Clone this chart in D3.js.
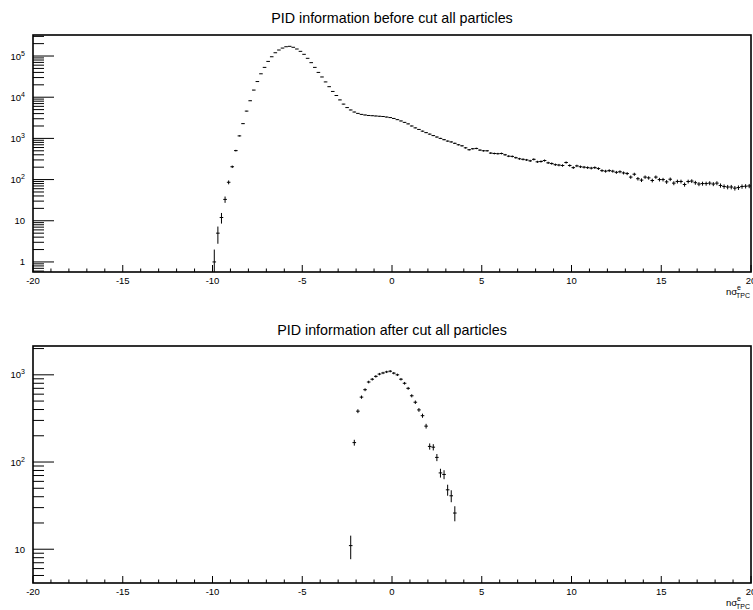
<!DOCTYPE html>
<html>
<head>
<meta charset="utf-8">
<script src="https://cdn.jsdelivr.net/npm/d3@7"></script>
<style>
  body { margin: 0; background: #fff; }
  svg { font-family: "Liberation Sans", Arial, Helvetica, sans-serif; }
  .err { stroke: #000; stroke-width: 1; }
</style>
</head>
<body>
<div id="container"></div>
<script>
// histogram binning (nsigma TPC electron), bins of 0.2 from -20 to 20
const binWidth = 0.2
const xRange = [-20, 20]
const xLabel = ["nσ", "e", "TPC"]

// before cut: counts of non-empty bins starting at center -9.9
const beforeTitle = "PID information before cut all particles"
const beforeFirstBin = -9.9
const beforeCounts = [
    1, 5, 12, 33, 86, 205, 505, 1150, 2280, 4600,
    8200, 14900, 24000, 37000, 53000, 74000, 96000, 120000, 140000, 156000,
    168000, 172000, 163000, 148000, 130000, 110000, 88000, 69000, 53000, 40000,
    31000, 23500, 18000, 13800, 11000, 8600, 6800, 5600, 4900, 4370,
    4050, 3830, 3700, 3600, 3550, 3500, 3450, 3400, 3300, 3200,
    3050, 2850, 2650, 2450, 2250, 2000, 1800, 1650, 1500, 1380,
    1270, 1170, 1080, 1000, 930, 860, 820, 760, 700, 660,
    590, 530, 560, 570, 520, 500, 500, 440, 430, 425,
    430, 400, 370, 365, 340, 320, 310, 300, 285, 310,
    270, 275, 290, 255, 245, 230, 225, 220, 260, 220,
    195, 215, 205, 200, 195, 190, 195, 185, 165, 160,
    165, 160, 150, 155, 145, 140, 115, 135, 105, 97,
    115, 110, 95, 115, 100, 100, 88, 102, 82, 90,
    90, 76, 90, 92, 84, 78, 80, 80, 82, 78,
    82, 72, 68, 66, 66, 62, 64, 68, 69, 70
]
const beforeYRange = [0.57, 3.24e5]

// after cut: counts starting at center -2.3
const afterTitle = "PID information after cut all particles"
const afterFirstBin = -2.3
const afterCounts = [
    11, 167, 383, 555, 675, 827, 890, 960, 1020, 1050,
    1080, 1100, 1045, 1000, 890, 800, 700, 575, 485, 396,
    340, 258, 151, 148, 113, 75, 72, 48, 41, 26
]
const afterYRange = [4.1, 2140]

const width = 753, height = 610
const margin = ({left: 33, right: 2})

const svg = d3.select("#container")
    .append("svg")
    .attr("width", width)
    .attr("height", height)

drawPanel(svg, {title: beforeTitle, titleY: 23, top: 35, bottom: 272,
    firstBin: beforeFirstBin, counts: beforeCounts, yRange: beforeYRange})
drawPanel(svg, {title: afterTitle, titleY: 335, top: 346, bottom: 583,
    firstBin: afterFirstBin, counts: afterCounts, yRange: afterYRange})

function drawPanel(svg, p) {
    let x = d3.scaleLinear().domain(xRange).range([margin.left, width - margin.right])
    let y = d3.scaleLog().domain(p.yRange).range([p.bottom, p.top])
    let g = svg.append("g")

    g.append("text")
        .attr("x", (x.range()[0] + x.range()[1]) / 2)
        .attr("y", p.titleY)
        .attr("text-anchor", "middle")
        .attr("font-size", 14.3)
        .text(p.title)

    // data points with error bars
    let pts = p.counts.map((c, i) => ({x: p.firstBin + i * binWidth, v: c}))
    let clampY = v => v <= 0 ? p.bottom : Math.min(p.bottom, Math.max(p.top, y(v)))
    let pg = g.append("g")
    pg.selectAll(".h").data(pts).enter().append("line")
        .attr("class", "err")
        .attr("x1", d => x(d.x - binWidth / 2))
        .attr("x2", d => x(d.x + binWidth / 2))
        .attr("y1", d => y(d.v))
        .attr("y2", d => y(d.v))
    pg.selectAll(".v").data(pts).enter().append("line")
        .attr("class", "err")
        .attr("x1", d => x(d.x))
        .attr("x2", d => x(d.x))
        .attr("y1", d => clampY(d.v - Math.sqrt(d.v)))
        .attr("y2", d => clampY(d.v + Math.sqrt(d.v)))

    // x ticks
    let xt = d3.range(xRange[0], xRange[1] + 1, 1)
    g.selectAll(".xt").data(xt).enter().append("line")
        .attr("stroke", "#000")
        .attr("x1", d => x(d)).attr("x2", d => x(d))
        .attr("y1", p.bottom)
        .attr("y2", d => p.bottom - (d % 5 === 0 ? 7 : 3.5))
    g.selectAll(".xl").data(xt.filter(d => d % 5 === 0)).enter().append("text")
        .attr("x", d => x(d))
        .attr("y", p.bottom + 12)
        .attr("text-anchor", "middle")
        .attr("font-size", 9.5)
        .text(d => d)

    let xl = g.append("text")
        .attr("x", width - 3)
        .attr("y", p.bottom + 23)
        .attr("text-anchor", "end")
        .attr("font-size", 9.5)
    xl.append("tspan").text(xLabel[0])
    xl.append("tspan").attr("font-size", 7).attr("dy", -5).text(xLabel[1])
    xl.append("tspan").attr("font-size", 7).attr("dx", -5).attr("dy", 8).text(xLabel[2])

    // y ticks (log, decades + minor)
    let ticks = []
    let lo = Math.floor(Math.log10(p.yRange[0])), hi = Math.ceil(Math.log10(p.yRange[1]))
    for (let e = lo; e <= hi; e++) {
        for (let k = 1; k <= 9; k++) {
            let v = k * Math.pow(10, e)
            if (v >= p.yRange[0] && v <= p.yRange[1]) ticks.push({v: v, major: k === 1, e: e})
        }
    }
    g.selectAll(".yt").data(ticks).enter().append("line")
        .attr("stroke", "#000")
        .attr("x1", margin.left)
        .attr("x2", d => margin.left + (d.major ? 21 : 11))
        .attr("y1", d => y(d.v)).attr("y2", d => y(d.v))

    let yl = g.selectAll(".yl").data(ticks.filter(d => d.major)).enter().append("text")
        .attr("x", 25)
        .attr("y", d => y(d.v) + 3.5)
        .attr("text-anchor", "end")
        .attr("font-size", 9.5)
    yl.each(function (d) {
        let t = d3.select(this)
        if (d.e === 0) t.text("1")
        else if (d.e === 1) t.text("10")
        else {
            t.append("tspan").text("10")
            t.append("tspan").attr("font-size", 7).attr("dy", -4).text(d.e)
        }
    })

    // frame
    g.append("rect")
        .attr("x", margin.left)
        .attr("y", p.top)
        .attr("width", width - margin.right - margin.left)
        .attr("height", p.bottom - p.top)
        .attr("fill", "none")
        .attr("stroke", "#000")
        .attr("stroke-width", 1.6)
}
</script>
</body>
</html>
